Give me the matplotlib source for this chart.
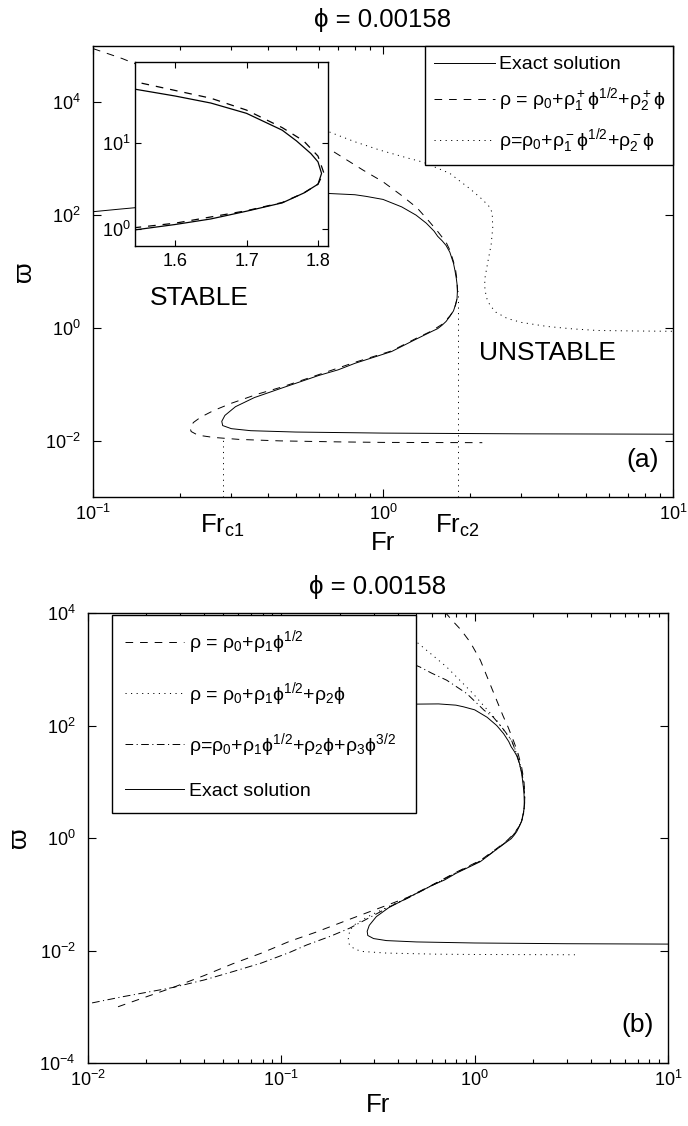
import matplotlib
matplotlib.use("Agg")
import matplotlib.pyplot as plt
from matplotlib import ticker
import matplotlib.transforms as mtransforms

plt.rcParams["font.family"] = ["Liberation Sans", "DejaVu Sans"]
plt.rcParams["mathtext.fontset"] = "custom"
plt.rcParams["mathtext.rm"] = "Liberation Sans"
plt.rcParams["mathtext.it"] = "Liberation Sans"
plt.rcParams["mathtext.default"] = "regular"
plt.rcParams["lines.scale_dashes"] = False

PHI = 0.00158

# exact solution: upper branch -> nose -> middle branch -> lower nose -> lower branch
exact_fr = [0.10, 0.124, 0.15, 0.2, 0.3, 0.4, 0.5, 0.65, 0.8, 0.875, 1.0, 1.16, 1.3,
            1.41, 1.5, 1.544, 1.6, 1.65, 1.7, 1.75, 1.77, 1.79, 1.80, 1.805, 1.80,
            1.78, 1.75, 1.7, 1.65, 1.6, 1.544, 1.47, 1.3, 1.07, 0.8, 0.7, 0.6, 0.446,
            0.36, 0.31, 0.285, 0.278, 0.28, 0.3, 0.35, 0.5, 1.0, 3.0, 10.0]
exact_w = [115, 128, 140, 165, 200, 225, 240, 242, 230, 215, 190, 140, 100,
           72, 52, 42, 35, 29, 22, 14, 10.5, 7.5, 6.0, 4.4, 3.3,
           2.6, 2.0, 1.6, 1.3, 1.12, 0.97, 0.86, 0.63, 0.38, 0.235, 0.18, 0.143, 0.085,
           0.058, 0.04, 0.028, 0.022, 0.0185, 0.0163, 0.015, 0.0142, 0.0136, 0.0132, 0.013]

# rho = rho0 + rho1+ phi^1/2 + rho2+ phi
plus_fr = [0.1, 0.126, 0.2, 0.3, 0.45, 0.646, 0.853, 1.0, 1.15, 1.31, 1.45, 1.55, 1.65,
           1.7, 1.75, 1.78, 1.80, 1.808, 1.80, 1.78, 1.75, 1.7, 1.6, 1.47, 1.3, 1.07,
           0.8, 0.6, 0.45, 0.37, 0.3, 0.26, 0.235, 0.222, 0.216, 0.218, 0.23, 0.26,
           0.32, 0.44, 0.7, 1.0, 2.2]
plus_w = [9e4, 6e4, 2.3e4, 9000, 3800, 1540, 630, 390, 230, 135, 75, 50, 33,
          24, 15, 10.5, 7.0, 4.5, 3.3, 2.6, 2.02, 1.62, 1.16, 0.88, 0.65, 0.39,
          0.245, 0.148, 0.09, 0.067, 0.046, 0.034, 0.026, 0.021, 0.017, 0.0145, 0.0125, 0.0114,
          0.0105, 0.0099, 0.0095, 0.0093, 0.0092]

# rho = rho0 + rho1- phi^1/2 + rho2- phi
minus_fr = [0.6, 0.656, 0.8, 0.977, 1.2, 1.375, 1.7, 2.0, 2.2, 2.33, 2.38, 2.39, 2.36,
            2.3, 2.25, 2.24, 2.27, 2.34, 2.45, 2.68, 3.0, 3.68, 4.5, 5.47, 7.5, 10.0]
minus_w = [3300, 2960, 2000, 1420, 1050, 870, 550, 290, 190, 140, 110, 60, 30,
           15, 8.0, 5.6, 3.5, 2.5, 1.9, 1.47, 1.25, 1.06, 0.96, 0.90, 0.88, 0.87]

# two-term expansion rho0 + rho1 phi^1/2
two_fr = [0.0143, 0.02, 0.0275, 0.04, 0.056, 0.079, 0.11, 0.15, 0.226, 0.3, 0.37, 0.45,
          0.6, 0.8, 1.07, 1.3, 1.47, 1.6, 1.7, 1.75, 1.79, 1.81, 1.815, 1.81, 1.80,
          1.75, 1.68, 1.6, 1.49, 1.4, 1.30, 1.2, 1.07, 0.95, 0.85, 0.776, 0.7]
two_w = [0.001, 0.0015, 0.0022, 0.0036, 0.0058, 0.009, 0.0145, 0.021, 0.036, 0.052, 0.068, 0.088,
         0.145, 0.245, 0.4, 0.65, 0.9, 1.2, 1.62, 2.05, 2.8, 3.8, 5.0, 6.5, 10.3,
         18, 31, 50, 93, 150, 280, 550, 1450, 3000, 5000, 7000, 1.05e4]

# three-term expansion rho0 + rho1 phi^1/2 + rho2 phi
three_fr = [0.45, 0.51, 0.716, 0.98, 1.3, 1.55, 1.65, 1.72, 1.78, 1.81, 1.815, 1.80,
            1.75, 1.7, 1.6, 1.47, 1.3, 1.07, 0.8, 0.6, 0.45, 0.35, 0.28, 0.24, 0.226,
            0.222, 0.225, 0.24, 0.264, 0.35, 0.64, 1.0, 3.3]
three_w = [3600, 2900, 1100, 370, 123, 54, 32, 20, 11, 6.5, 4.6, 3.2,
           2.0, 1.62, 1.18, 0.88, 0.64, 0.39, 0.24, 0.143, 0.086, 0.058, 0.04, 0.029, 0.023,
           0.016, 0.0126, 0.0105, 0.0096, 0.009, 0.0086, 0.0085, 0.0084]

# four-term expansion rho0 + rho1 phi^1/2 + rho2 phi + rho3 phi^3/2
four_fr = [0.0105, 0.015, 0.0275, 0.04, 0.056, 0.079, 0.11, 0.135, 0.18, 0.226, 0.3, 0.37,
           0.45, 0.6, 0.8, 1.07, 1.3, 1.47, 1.6, 1.7, 1.75, 1.79, 1.812, 1.812, 1.80,
           1.76, 1.65, 1.55, 1.41, 1.25, 1.12, 0.91, 0.716, 0.6, 0.52, 0.45]
four_w = [0.00117, 0.0015, 0.0022, 0.003, 0.0042, 0.006, 0.0092, 0.0125, 0.018, 0.025, 0.042, 0.062,
          0.085, 0.142, 0.24, 0.39, 0.63, 0.88, 1.17, 1.6, 2.0, 2.7, 4.0, 5.5, 8.0,
          14, 31, 55, 85, 140, 186, 370, 640, 850, 1100, 1350]

FR_C1 = 0.28
FR_C2 = 1.81
FR_C1_TOP = 0.012
FR_C2_TOP = 4.6

LW = 0.7
DASH = (0, (5.5, 5.0))
DOT = (0, (0.8, 3.2))
DASHDOT = (0, (5.5, 2.5, 0.8, 2.5))

TICK_FS = 13
LABEL_FS = 18.5


def style_axes(ax):
    ax.tick_params(which="both", direction="in", top=True, right=True,
                   labelsize=TICK_FS, width=0.8)
    ax.tick_params(which="major", length=6)
    ax.tick_params(which="minor", length=3)
    ax.tick_params(axis="x", which="major", pad=5)
    ax.tick_params(axis="y", which="major", pad=9)
    for s in ax.spines.values():
        s.set_linewidth(1.0)


fig = plt.figure(figsize=(6.88, 11.26), dpi=100)

# ---- panel (a) ----
ax1 = fig.add_axes([93 / 688, 1 - 497 / 1126, 580 / 688, 451 / 1126])
ax1.set_xscale("log")
ax1.set_yscale("log")
ax1.set_xlim(0.1, 10)
ax1.set_ylim(1e-3, 1e5)
h_exact, = ax1.plot(exact_fr, exact_w, "k-", lw=LW, label="Exact solution")
h_plus, = ax1.plot(plus_fr, plus_w, "k", ls=DASH, lw=LW,
                   label=r"$\rho$ = $\rho_0$+$\rho_1^+\phi^{1/2}$+$\rho_2^+\phi$")
h_minus, = ax1.plot(minus_fr, minus_w, "k", ls=DOT, lw=LW,
                    label=r"$\rho$=$\rho_0$+$\rho_1^-\phi^{1/2}$+$\rho_2^-\phi$")
ax1.plot([FR_C1, FR_C1], [1e-3, FR_C1_TOP], "k", ls=DOT, lw=LW)
ax1.plot([FR_C2, FR_C2], [1e-3, FR_C2_TOP], "k", ls=DOT, lw=LW)
ax1.set_yticks([1e-2, 1, 1e2, 1e4])
ax1.yaxis.set_minor_locator(ticker.NullLocator())
ax1.xaxis.set_minor_locator(ticker.LogLocator(subs=range(2, 10)))
style_axes(ax1)
ax1.set_title("ϕ = 0.00158", fontsize=LABEL_FS, pad=14)
ax1.set_ylabel("ϖ", fontsize=19, labelpad=6)
ax1.set_xlabel("Fr", fontsize=LABEL_FS, labelpad=5)
ax1.text(0.184, 0.441, "STABLE", transform=ax1.transAxes, fontsize=19,
         ha="center", va="center")
ax1.text(0.784, 0.319, "UNSTABLE", transform=ax1.transAxes, fontsize=19,
         ha="center", va="center")
ax1.text(0.975, 0.082, "(a)", transform=ax1.transAxes, fontsize=19,
         ha="right", va="center")
blend = mtransforms.blended_transform_factory(ax1.transData, ax1.transAxes)
ax1.text(FR_C1, -0.035, "Fr$_{c1}$", transform=blend, fontsize=LABEL_FS,
         ha="center", va="top")
ax1.text(FR_C2, -0.035, "Fr$_{c2}$", transform=blend, fontsize=LABEL_FS,
         ha="center", va="top")
leg1 = ax1.legend(handles=[h_exact, h_plus, h_minus], loc="upper left",
                  bbox_to_anchor=(0.572, 0.0, 0.428, 1.0), mode="expand",
                  borderaxespad=0, fontsize=14,
                  frameon=True, fancybox=False, edgecolor="black", framealpha=1,
                  handlelength=3.1, handletextpad=0.2, labelspacing=0.62,
                  borderpad=0.5)
leg1.get_frame().set_linewidth(1.0)

# zoom on the upper nose
axi = fig.add_axes([135 / 688, 1 - 246 / 1126, 193 / 688, 184 / 1126])
axi.set_yscale("log")
axi.plot(exact_fr, exact_w, "k-", lw=0.9)
axi.plot(plus_fr, plus_w, "k", ls=DASH, lw=0.9)
axi.set_xlim(1.544, 1.814)
axi.set_ylim(0.63, 87)
axi.set_xticks([1.6, 1.7, 1.8])
axi.xaxis.set_major_formatter(ticker.FormatStrFormatter("%.1f"))
axi.set_yticks([1, 10])
axi.yaxis.set_minor_locator(ticker.NullLocator())
axi.xaxis.set_minor_locator(ticker.NullLocator())
axi.tick_params(direction="in", top=True, right=True, labelsize=TICK_FS,
                length=4, width=0.8, pad=5)
axi.tick_params(axis="y", pad=3)
for s in axi.spines.values():
    s.set_linewidth(1.0)

# ---- panel (b) ----
ax2 = fig.add_axes([88 / 688, 1 - 1063 / 1126, 580 / 688, 450 / 1126])
ax2.set_xscale("log")
ax2.set_yscale("log")
ax2.set_xlim(0.01, 10)
ax2.set_ylim(1e-4, 1e4)
g_two, = ax2.plot(two_fr, two_w, "k", ls=DASH, lw=LW,
                  label=r"$\rho$ = $\rho_0$+$\rho_1\phi^{1/2}$")
g_three, = ax2.plot(three_fr, three_w, "k", ls=DOT, lw=LW,
                    label=r"$\rho$ = $\rho_0$+$\rho_1\phi^{1/2}$+$\rho_2\phi$")
g_four, = ax2.plot(four_fr, four_w, "k", ls=DASHDOT, lw=LW,
                   label=r"$\rho$=$\rho_0$+$\rho_1\phi^{1/2}$+$\rho_2\phi$+$\rho_3\phi^{3/2}$")
g_exact, = ax2.plot(exact_fr, exact_w, "k-", lw=LW, label="Exact solution")
ax2.set_yticks([1e-4, 1e-2, 1, 1e2, 1e4])
ax2.yaxis.set_minor_locator(ticker.NullLocator())
ax2.xaxis.set_minor_locator(ticker.LogLocator(subs=range(2, 10)))
style_axes(ax2)
ax2.set_title("ϕ = 0.00158", fontsize=LABEL_FS, pad=14)
ax2.set_ylabel("ϖ", fontsize=19, labelpad=6)
ax2.set_xlabel("Fr", fontsize=LABEL_FS, labelpad=2)
ax2.text(0.975, 0.084, "(b)", transform=ax2.transAxes, fontsize=19,
         ha="right", va="center")
leg2 = ax2.legend(handles=[g_two, g_three, g_four, g_exact], loc="upper left",
                  bbox_to_anchor=(0.041, 0.0, 0.524, 0.996), mode="expand",
                  borderaxespad=0, fontsize=14,
                  frameon=True, fancybox=False, edgecolor="black", framealpha=1,
                  handlelength=3.0, handletextpad=0.25, labelspacing=1.2,
                  borderpad=0.7)
leg2.get_frame().set_linewidth(1.0)

fig.savefig("out.png", dpi=100)
